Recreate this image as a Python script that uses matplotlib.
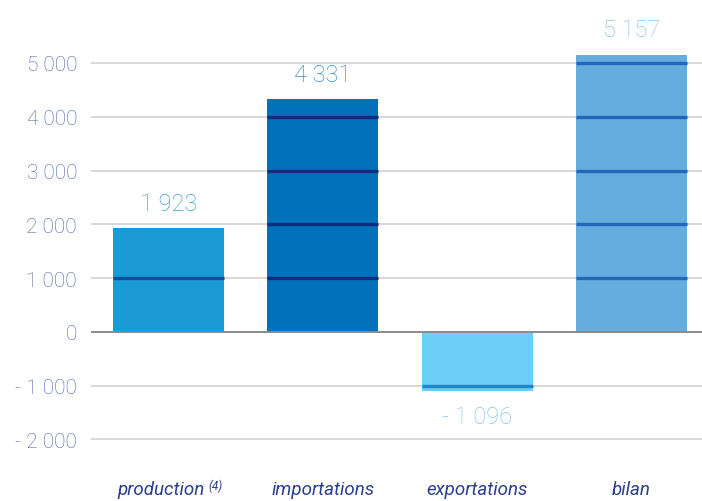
import numpy as np
import matplotlib.pyplot as plt
from matplotlib.transforms import ScaledTranslation

# values
categories = ['production', 'importations', 'exportations', 'bilan']
values = [1923, 4331, -1096, 5157]
value_labels = ['1 923', '4 331', '- 1 096', '5 157']
bar_colors = ['#1a9bd4', '#0071bb', '#6bcff5', '#64addf']
inner_colors = ['#0b4f9c', '#0c2c7c', '#1b88d0', '#2467b8']
label_colors = ['#3a9fd8', '#2a8bcd', '#86c4ec', '#86c4ec']
yticks = [-2000, -1000, 0, 1000, 2000, 3000, 4000, 5000]
ytick_labels = ['- 2 000', '- 1 000', '0', '1 000', '2 000', '3 000', '4 000', '5 000']

plt.rcParams['font.family'] = ['Roboto', 'DejaVu Sans']

fig = plt.figure(figsize=(7.02, 5.02), dpi=100)
ax = fig.add_axes([91 / 702, 1 - 470 / 502, 611 / 702, 470 / 502])

x = np.arange(len(categories))
width = 0.72

# grid lines first, bars over them
for t in yticks:
    if t != 0:
        ax.axhline(t, color='#d6d6d6', lw=1.3, zorder=1)

ax.bar(x, values, width=width, color=bar_colors, zorder=2)

# darker lines drawn across the bars at every 1000
for i, v in enumerate(values):
    for t in yticks:
        if t != 0 and min(0, v) < t < max(0, v):
            ax.hlines(t, x[i] - width / 2, x[i] + width / 2,
                      color=inner_colors[i], lw=2.4, zorder=3)

ax.axhline(0, color='#8a8a8a', lw=1.4, zorder=4)

# value labels
for i, v in enumerate(values):
    if v >= 0:
        ax.text(x[i], v + 250, value_labels[i], ha='center', va='bottom',
                fontsize=17, fontweight='light', color=label_colors[i])
    else:
        ax.text(x[i], v - 260, value_labels[i], ha='center', va='top',
                fontsize=17, fontweight='light', color=label_colors[i])

ax.set_xlim(-0.502, 3.456)
ax.set_ylim(-2550, 6190)
ax.set_yticks(yticks)
ax.set_yticklabels(ytick_labels, fontsize=15, fontweight='light', color='#5267a8')
ax.set_xticks(x)
ax.set_xticklabels(categories, fontsize=13.5, style='italic', color='#2b3f8c')
ax.tick_params(axis='both', length=0)
ax.tick_params(axis='y', pad=10)
ax.tick_params(axis='x', pad=8)
for s in ax.spines.values():
    s.set_visible(False)

# footnote mark after "production"
lab = ax.get_xticklabels()[0]
lab.set_transform(lab.get_transform() + ScaledTranslation(-0.07, 0, fig.dpi_scale_trans))
fig.canvas.draw()
bb = lab.get_window_extent()
fig.text((bb.x1 + 3) / fig.bbox.width, (bb.y1 + 2) / fig.bbox.height, '(4)',
         fontsize=8.5, style='italic', color='#2b3f8c', ha='left', va='top')

plt.savefig('out.png', dpi=100)
